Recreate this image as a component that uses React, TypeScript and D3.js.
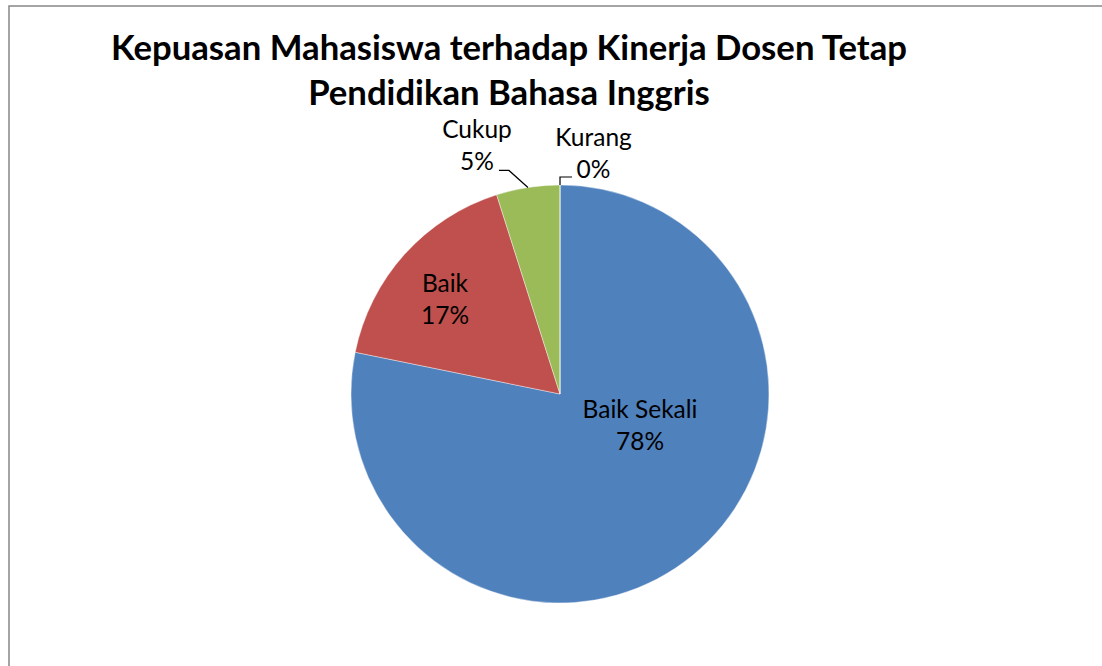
import React, { useEffect, useRef } from "react";
import * as d3 from "d3";

const categories = ["Baik Sekali", "Baik", "Cukup", "Kurang"];
const values = [78.2, 16.9, 4.9, 0];
const percentLabels = ["78%", "17%", "5%", "0%"];
const colors = ["#4F81BD", "#C0504D", "#9BBB59", "#8064A2"];
const titleLines = ["Kepuasan Mahasiswa terhadap Kinerja Dosen Tetap", "Pendidikan Bahasa Inggris"];

const W = 1102;
const H = 666;

const App = () => {
  const svgRef = useRef<SVGSVGElement>(null);

  useEffect(() => {
    const svg = d3.select(svgRef.current);
    svg.selectAll("*").remove();

    // chart frame (right and bottom run off the page)
    svg
      .append("rect")
      .attr("x", 9)
      .attr("y", 6)
      .attr("width", W + 20)
      .attr("height", H + 20)
      .attr("fill", "#fff")
      .attr("stroke", "#868686")
      .attr("stroke-width", 1.5);

    const font = "Lato, 'Noto Sans', sans-serif";

    // title
    svg
      .append("g")
      .selectAll("text")
      .data(titleLines)
      .enter()
      .append("text")
      .attr("x", 509)
      .attr("y", (d, i) => 60 + i * 45)
      .attr("text-anchor", "middle")
      .attr("font-family", font)
      .attr("font-weight", "bold")
      .attr("font-size", 34.7)
      .attr("fill", "#000")
      .text((d) => d);

    const cx = 560;
    const cy = 394;
    const r = 209;

    const pie = d3
      .pie<number>()
      .sort(null)
      .value((d) => d);
    const arcs = pie(values);
    const arc = d3.arc<d3.PieArcDatum<number>>().innerRadius(0).outerRadius(r);

    const g = svg.append("g").attr("transform", `translate(${cx},${cy})`);

    g.selectAll("path")
      .data(arcs)
      .enter()
      .append("path")
      .attr("d", arc)
      .attr("fill", (d, i) => colors[i])
      .attr("stroke", "#fff")
      .attr("stroke-width", 0.4);

    // label offsets from the pie centre (Excel best-fit placement)
    const labelOffset = (i: number): [number, number] => {
      if (i === 0) return [80, 24];
      if (i === 1) return [-115, -102];
      if (i === 2) return [-83, -256];
      return [33.5, -248];
    };

    arcs.forEach((a, i) => {
      const [lx, ly] = labelOffset(i);
      const t = g
        .append("text")
        .attr("text-anchor", "middle")
        .attr("font-family", font)
        .attr("font-size", 24.5)
        .attr("fill", "#000");
      t.append("tspan").attr("x", lx).attr("y", ly).text(categories[i]);
      t.append("tspan").attr("x", lx).attr("y", ly + 32).text(percentLabels[i]);
    });

    // leader lines for the outside labels
    const leader = (i: number) => {
      const a = arcs[i];
      const mid = (a.startAngle + a.endAngle) / 2;
      const ex = Math.sin(mid) * r;
      const ey = -Math.cos(mid) * r;
      if (i === 2) {
        return [
          [ex, ey],
          [ex - 19, ey - 17],
          [ex - 29, ey - 17],
        ];
      }
      return [
        [ex, ey],
        [ex, ey - 8],
        [ex + 12, ey - 8],
      ];
    };
    [2, 3].forEach((i) => {
      g.append("path")
        .attr("d", d3.line()(leader(i) as [number, number][]))
        .attr("fill", "none")
        .attr("stroke", "#000")
        .attr("stroke-width", 1.2);
    });
  }, []);

  return (
    <svg
      ref={svgRef}
      width={W}
      height={H}
      style={{ position: "fixed", left: 0, top: 0, background: "#fff" }}
    />
  );
};

export default App;
